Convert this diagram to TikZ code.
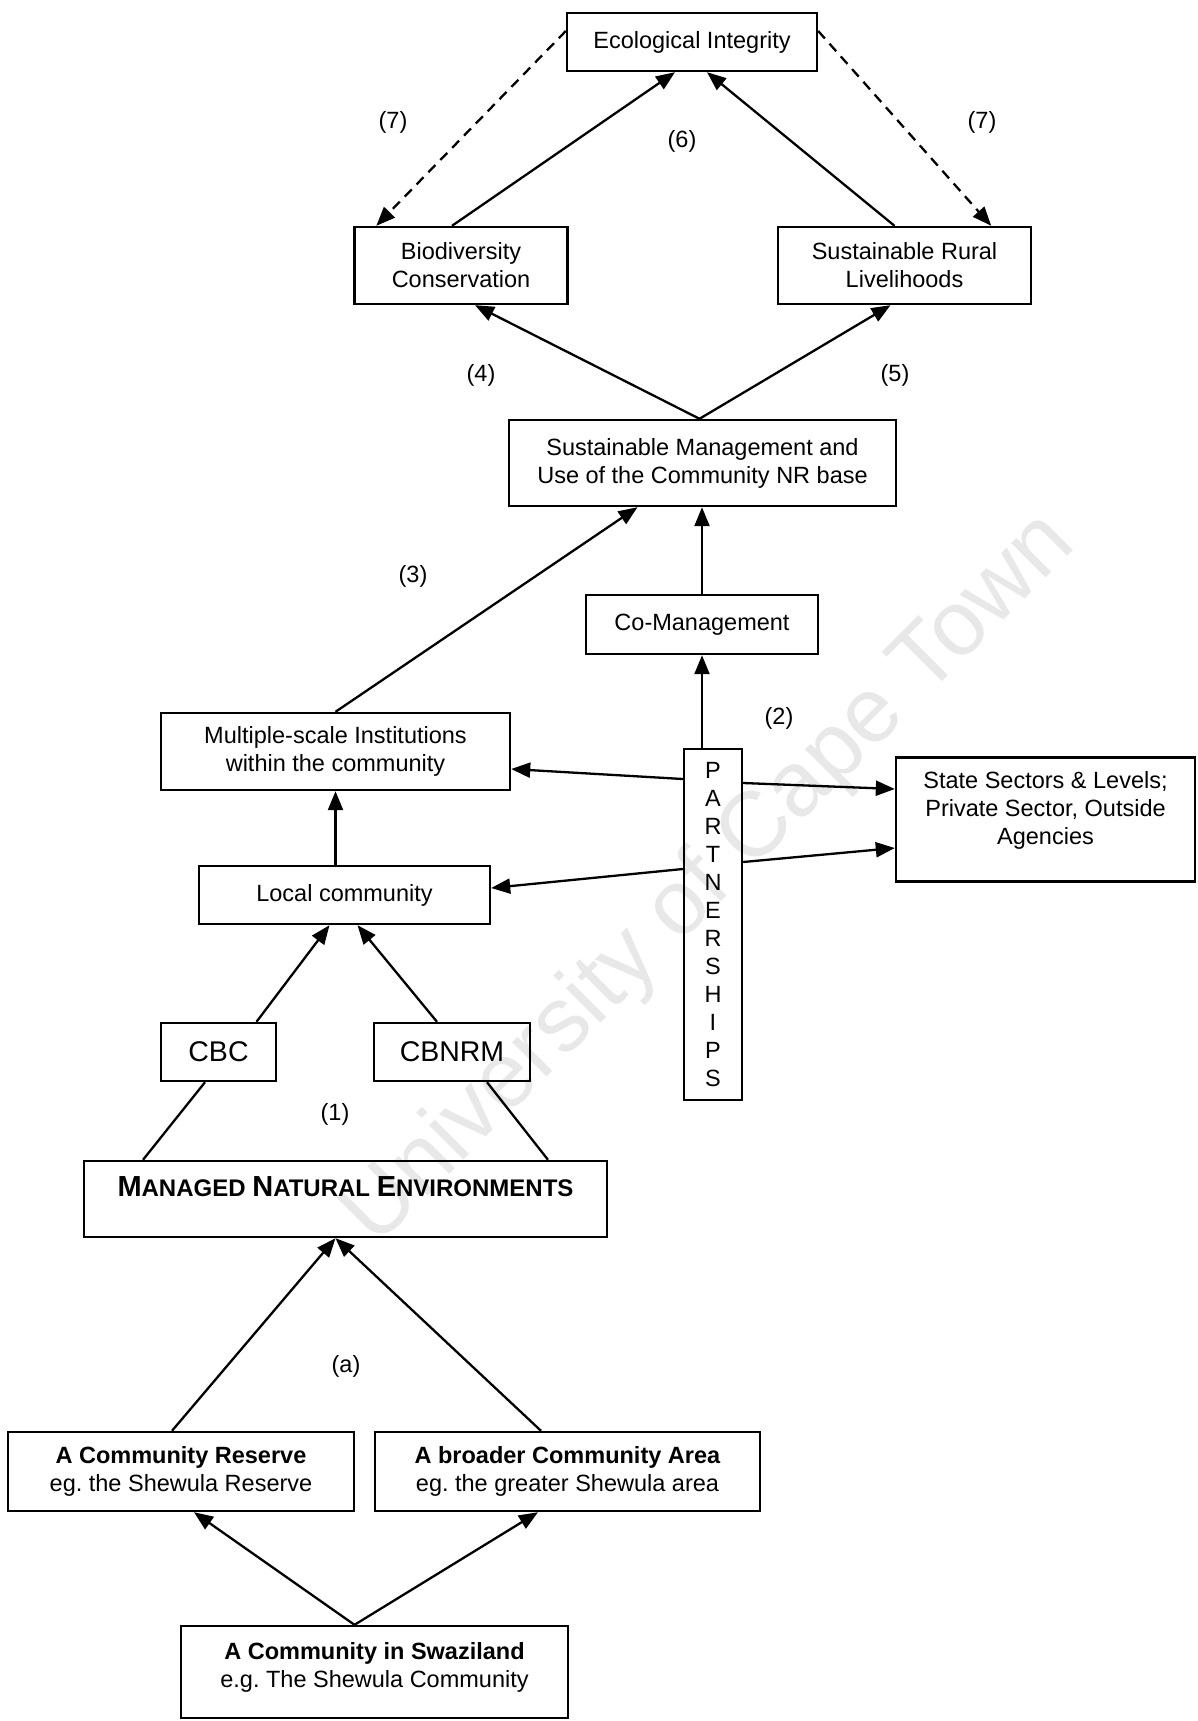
\documentclass[tikz,border=0pt]{standalone}
\usepackage{fontspec}
\setmainfont{Liberation Sans}
\usetikzlibrary{arrows.meta,calc}
\frenchspacing
\begin{document}
\begin{tikzpicture}[x=1pt,y=-1pt,
  box/.style 2 args={draw, line width=2.4pt, minimum width=#1pt, minimum height=#2pt, inner sep=0pt, align=center, font=\fontsize{23.5}{28}\selectfont},
  lbl/.style={font=\fontsize{23.5}{28}\selectfont, inner sep=0pt},
  conn/.style={line width=2.3pt},
  arr/.style={conn, -{Triangle[length=19pt,width=15pt]}},
  dashconn/.style={arr, dash pattern=on 10pt off 7pt}
]
\useasboundingbox (0,0) rectangle (1197,1721);
% watermark
\node[rotate=45, text=black!9, font=\fontsize{92}{92}\selectfont, inner sep=0pt] (wm) at (710,880) {University of Cape Town};

% nodes
\node[box={250}{58}] (eco) at (692,42) {Ecological Integrity};
\node[box={213}{77}] (bio) at (461,265.5) {Biodiversity\\Conservation};
\node[box={253}{77}] (srl) at (904.5,265.5) {Sustainable Rural\\Livelihoods};
\node[box={387}{86}] (sm) at (702.5,463) {Sustainable Management and\\Use of the Community NR base};
\node[box={232}{59}] (com) at (702,624.5) {Co-Management};
\node[box={349}{77}] (mult) at (335.5,751.5) {Multiple-scale Institutions\\within the community};
\node[box={291}{58}] (local) at (344.5,895) {Local community};
\node[box={115}{58}, font=\fontsize{28.5}{32}\selectfont] (cbc) at (218.5,1052) {CBC};
\node[box={156}{58}, font=\fontsize{28.5}{32}\selectfont] (cbnrm) at (452,1052) {CBNRM};
\node[box={58}{351}] (part) at (713,924.5) {P\\A\\R\\T\\N\\E\\R\\S\\H\\I\\P\\S};
\node[box={299}{124}] (state) at (1045.5,819.5) {\raisebox{9pt}[\height][\depth]{\begin{tabular}{@{}c@{}}State Sectors \& Levels;\\Private Sector, Outside\\Agencies\end{tabular}}};
\node[box={523}{76}] (mne) at (345.5,1199) {\raisebox{12pt}[\height][\depth]{\bfseries\fontsize{24}{28}\selectfont{\fontsize{29}{28}\selectfont M}ANAGED {\fontsize{29}{28}\selectfont N}ATURAL {\fontsize{29}{28}\selectfont E}NVIRONMENTS}};
\node[box={346}{79}] (reserve) at (181,1471.5) {\textbf{A Community Reserve}\\eg. the Shewula Reserve};
\node[box={385}{79}] (broader) at (567.5,1471.5) {\textbf{A broader Community Area}\\eg. the greater Shewula area};
\node[box={387}{92}] (swz) at (374.5,1672) {\raisebox{4pt}[\height][\depth]{\begin{tabular}{@{}c@{}}\textbf{A Community in Swaziland}\\e.g. The Shewula Community\end{tabular}}};

% labels
\node[lbl] (l7a) at (393,122) {(7)};
\node[lbl] (l7b) at (982,122) {(7)};
\node[lbl] (l6) at (682,141) {(6)};
\node[lbl] (l4) at (481,375) {(4)};
\node[lbl] (l5) at (895,375) {(5)};
\node[lbl] (l3) at (413,576) {(3)};
\node[lbl] (l2) at (779,718) {(2)};
\node[lbl] (l1) at (335,1114) {(1)};
\node[lbl] (la) at (346,1366) {(a)};

% connectors
\draw[dashconn] ([yshift=11pt]eco.west) -- ([xshift=23pt]bio.north west);
\draw[dashconn] ([yshift=11pt]eco.east) -- ([xshift=-41pt]srl.north east);
\draw[arr] ([xshift=-9pt]bio.north) -- ([xshift=-17pt]eco.south);
\draw[arr] ([xshift=-10pt]srl.north) -- ([xshift=15pt]eco.south);
\draw[arr] ([xshift=-3pt]sm.north) -- ([xshift=14pt]bio.south);
\draw[arr] ([xshift=-3pt]sm.north) -- ([xshift=-14pt]srl.south);
\draw[arr] (mult.north) -- ([xshift=-65pt]sm.south);
\draw[arr] (com.north) -- (com.north |- sm.south);
\draw[arr] (part.north -| com.south) -- (com.south);
\draw[arr] ([yshift=145.5pt]part.west) -- ([yshift=-17.5pt]mult.east);
\draw[arr] ([yshift=141.5pt]part.east) -- ([yshift=30.5pt]state.west);
\draw[arr] ([yshift=55.5pt]part.west) -- ([yshift=7pt]local.east);
\draw[arr] ([yshift=62.5pt]part.east) -- ([yshift=-28.5pt]state.west);
\draw[arr] (mult.south |- local.north) -- (mult.south);
\draw[arr] ([xshift=38pt]cbc.north) -- ([xshift=-15pt]local.south);
\draw[arr] ([xshift=-15pt]cbnrm.north) -- ([xshift=13pt]local.south);
\draw[conn] ([xshift=-13.5pt]cbc.south) -- ([xshift=-202.5pt]mne.north);
\draw[conn] ([xshift=35pt]cbnrm.south) -- ([xshift=202.5pt]mne.north);
\draw[arr] ([xshift=-9pt]reserve.north) -- ([xshift=-10pt]mne.south);
\draw[arr] ([xshift=-26.5pt]broader.north) -- ([xshift=-10pt]mne.south);
\draw[arr] ([xshift=-20pt]swz.north) -- ([xshift=13pt]reserve.south);
\draw[arr] ([xshift=-20pt]swz.north) -- ([xshift=-29.5pt]broader.south);
\end{tikzpicture}
\end{document}
